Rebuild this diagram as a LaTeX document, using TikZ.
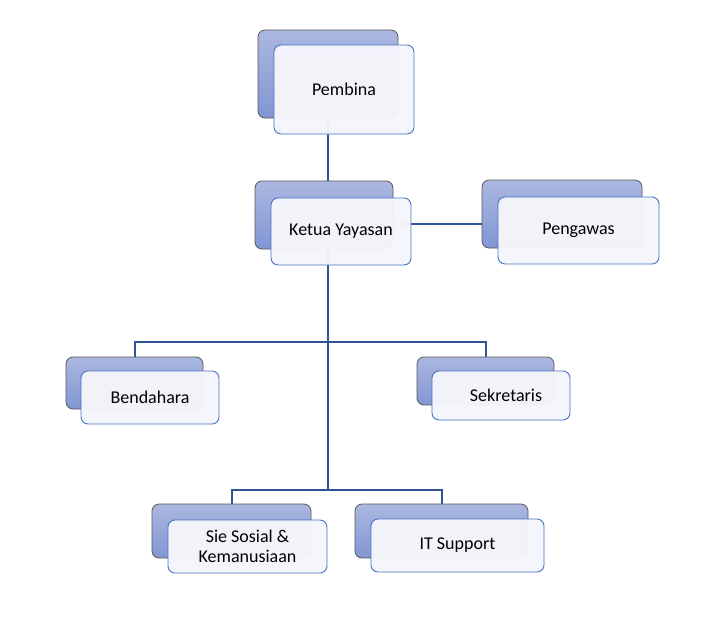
\documentclass[tikz,border=0pt]{standalone}
\usepackage{fontspec}
\setmainfont{Carlito}
\usetikzlibrary{positioning}
\definecolor{backtop}{HTML}{ABB7E0}
\definecolor{backbot}{HTML}{8296D3}
\definecolor{backline}{HTML}{595959}
\definecolor{frontfill}{HTML}{F5F6FB}
\definecolor{frontline}{HTML}{4472C4}
\definecolor{conn}{HTML}{2F5597}
\tikzset{
  backbox/.style={draw=backline, line width=0.8pt, rounded corners=7pt, top color=backtop, bottom color=backbot, inner sep=0pt},
  frontbox/.style={draw=frontline, line width=0.9pt, rounded corners=7pt, fill=frontfill, fill opacity=0.97, text opacity=1, inner sep=0pt, align=center, font=\fontsize{18}{20}\selectfont},
  link/.style={draw=conn, line width=2pt}
}
\begin{document}
\begin{tikzpicture}[x=1pt,y=-1pt]
\useasboundingbox (0,0) rectangle (714,619);
% back boxes
\node[backbox, minimum width=140, minimum height=88] (pb) at (328,74) {};
\node[backbox, minimum width=138, minimum height=68] (kb) at (324,215) {};
\node[backbox, minimum width=160, minimum height=68] (gb) at (562,214) {};
\node[backbox, minimum width=137, minimum height=52] (bb) at (134.5,383) {};
\node[backbox, minimum width=137, minimum height=48] (sb) at (485.5,381) {};
\node[backbox, minimum width=159, minimum height=54] (ssb) at (231.5,531) {};
\node[backbox, minimum width=173, minimum height=54] (itb) at (441.5,531) {};
% coordinates for connectors
\coordinate (bus1) at (328,342);
\coordinate (bus2) at (328,490);
\coordinate (gj) at (482,224);
% connectors
\draw[link] (pb.south) -- (pb.south |- kb.north);
\draw[link] (pb.south |- kb.south) -- (bus2);
\draw[link] (bb.north) -- (bb.north |- bus1) -- (sb.north |- bus1) -- (sb.north);
\draw[link] (ssb.north) -- (ssb.north |- bus2) -- (itb.north |- bus2) -- (itb.north);
\draw[link] (gj -| kb.east) -- (gj);
% front boxes
\node[frontbox, minimum width=140, minimum height=89] (pf) at (344,89.5) {Pembina};
\node[frontbox, minimum width=140, minimum height=67] (kf) at (341,231.5) {Ketua Yayasan};
\node[frontbox, minimum width=161, minimum height=67] (gf) at (578.5,230.5) {Pengawas};
\node[frontbox, minimum width=138, minimum height=53] (bf) at (150,397.5) {Bendahara};
\node[frontbox, minimum width=138, minimum height=49] (sf) at (501,395.5) {\hspace*{10pt}Sekretaris};
\node[frontbox, minimum width=159, minimum height=53] (ssf) at (247.5,546.5) {Sie Sosial \&\\Kemanusiaan};
\node[frontbox, minimum width=173, minimum height=53] (itf) at (457.5,545.5) {IT Support};
\end{tikzpicture}
\end{document}
